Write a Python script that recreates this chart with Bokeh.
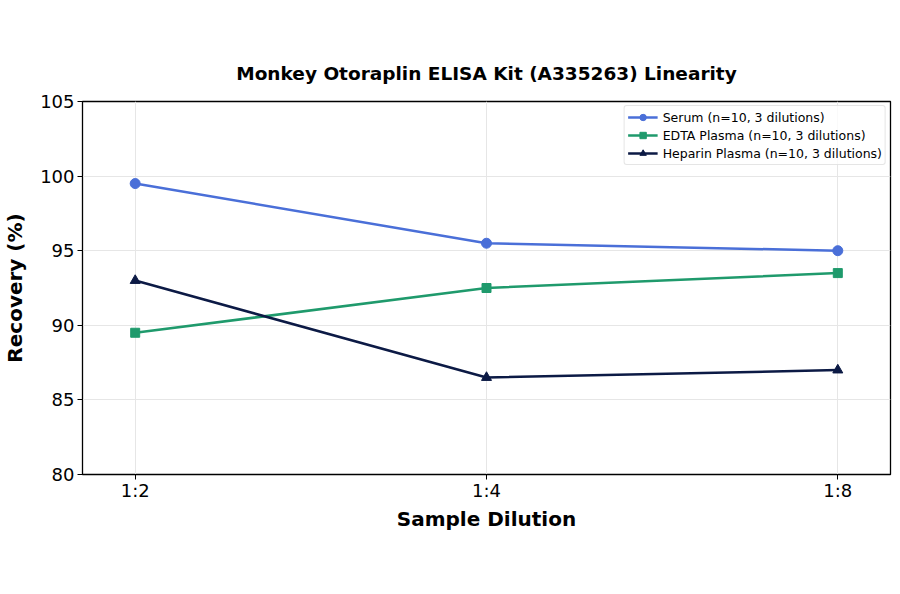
from bokeh.plotting import figure
from bokeh.models import FixedTicker, Legend, LegendItem, Range1d
from bokeh.embed import file_html
from bokeh.resources import INLINE

dilutions = ["1:2", "1:4", "1:8"]
xpos = [0, 1, 2]
serum = [99.5, 95.5, 95.0]
edta = [89.5, 92.5, 93.5]
heparin = [93.0, 86.5, 87.0]
yticks = [80, 85, 90, 95, 100, 105]

FONT = "DejaVu Sans"

p = figure(width=892, height=586, output_backend="svg", toolbar_location=None,
           x_range=Range1d(-0.15, 2.15), y_range=Range1d(80, 105),
           min_border_left=82, min_border_right=2, min_border_top=101,
           min_border_bottom=112)

p.title.text = "Monkey Otoraplin ELISA Kit (A335263) Linearity"
p.title.align = "center"
p.title.text_font = FONT
p.title.text_font_size = "18.5px"
p.title.text_font_style = "bold"
p.title.text_color = "black"
p.title.standoff = 36

p.outline_line_color = "black"
p.outline_line_width = 1.3

p.xaxis.ticker = FixedTicker(ticks=xpos)
p.xaxis.major_label_overrides = {i: d for i, d in zip(xpos, dilutions)}
p.yaxis.ticker = FixedTicker(ticks=yticks)
for ax in (p.xaxis, p.yaxis):
    ax.minor_tick_line_color = None
    ax.major_tick_out = 5
    ax.major_tick_in = 0
    ax.major_label_standoff = 3
    ax.axis_line_color = "black"
    ax.major_tick_line_color = "black"
    ax.major_label_text_font = FONT
    ax.major_label_text_font_size = "18px"
    ax.major_label_text_color = "black"
    ax.axis_label_text_font = FONT
    ax.axis_label_text_font_size = "20px"
    ax.axis_label_text_font_style = "bold"
    ax.axis_label_text_color = "black"
p.xaxis.major_label_standoff = 0
p.xaxis.axis_label = "Sample Dilution"
p.yaxis.axis_label = "Recovery (%)"
p.xaxis.axis_label_standoff = 3
p.yaxis.axis_label_standoff = 10

p.grid.grid_line_color = "#e6e6e6"
p.grid.grid_line_width = 1

c1, c2, c3 = "#4a6fd8", "#1f9a6c", "#0c1a45"
l1 = p.line(xpos, serum, line_color=c1, line_width=2.5)
m1 = p.scatter(xpos, serum, marker="circle", size=10, color=c1)
l2 = p.line(xpos, edta, line_color=c2, line_width=2.5)
m2 = p.scatter(xpos, edta, marker="square", size=9, color=c2)
l3 = p.line(xpos, heparin, line_color=c3, line_width=2.5)
m3 = p.scatter(xpos, heparin, marker="triangle", size=10, color=c3)

legend = Legend(items=[
    LegendItem(label="Serum (n=10, 3 dilutions)", renderers=[l1, m1]),
    LegendItem(label="EDTA Plasma (n=10, 3 dilutions)", renderers=[l2, m2]),
    LegendItem(label="Heparin Plasma (n=10, 3 dilutions)", renderers=[l3, m3]),
], location="top_right")
legend.label_text_font = FONT
legend.label_text_font_size = "12.5px"
legend.label_text_color = "black"
legend.label_height = 16
legend.glyph_height = 16
legend.glyph_width = 30
legend.spacing = 2
legend.padding = 3
legend.margin = 4
legend.border_line_color = "#cccccc"
legend.border_radius = 3
legend.background_fill_alpha = 0.8
p.add_layout(legend)

open("out.html", "w").write(file_html(p, INLINE))
